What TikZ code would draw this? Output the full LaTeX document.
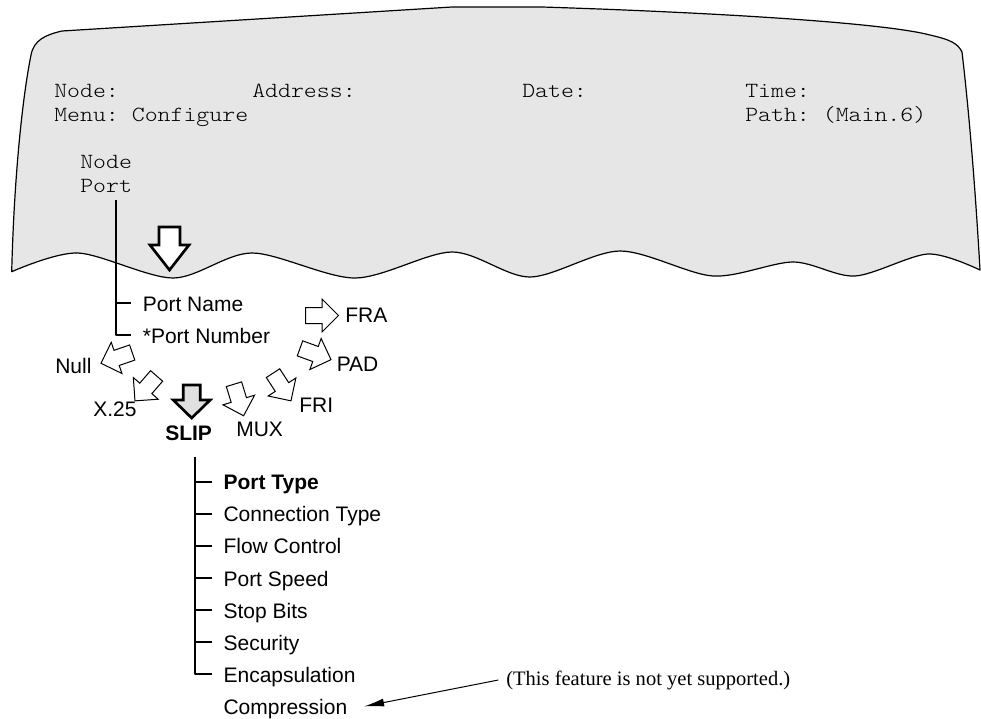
\documentclass[tikz,border=0pt]{standalone}
\usepackage{fontspec}
\setmainfont{Liberation Sans}
\newfontfamily\scrfont[FakeStretch=1.14]{Latin Modern Mono Light}
\newfontfamily\notefont{Liberation Serif}
\usetikzlibrary{arrows.meta}
\definecolor{screengray}{HTML}{E6E6E6}
\definecolor{slipgray}{HTML}{E0E0E0}
\tikzset{
  pics/barrow/.style n args={5}{code={%
    \path[pic actions] (-#1,-#2) -- (#3,-#2) -- (#3,-#4) -- (#5,0) -- (#3,#4) -- (#3,#2) -- (-#1,#2) -- cycle;}},
}
\frenchspacing
\begin{document}
\begin{tikzpicture}[line join=round, x=0.75pt, y=-0.75pt]
    \tikzset{scr/.style={font=\scrfont\fontsize{16.2}{19}\selectfont, anchor=base west, inner sep=0pt},
        item/.style={font=\fontsize{15.75}{18}\selectfont, anchor=west, inner xsep=8.7pt, inner ysep=0pt, text height=12pt, text depth=0pt},
        lbl/.style={font=\fontsize{15.75}{18}\selectfont, anchor=west, inner sep=0pt},
        tree/.style={line width=1.3pt},
        thinarr/.style={draw, fill=white, line width=0.75pt, line join=miter},
        boldarr/.style={draw, line width=2pt, line join=miter}}
    \def\rowgap{32.1}
    \useasboundingbox (0,0) rectangle (981,718);
    % the screen
    \filldraw[fill=screengray, line width=0.9pt] (11.7,271.7) .. controls (14,180) and (22,100) .. (31,55)
        .. controls (34,40) and (45,35) .. (62,31) -- (452,7) -- (542,7)
        .. controls (700,12) and (880,22) .. (930,35) .. controls (952,40) and (958,44) .. (962,52)
        .. controls (970,120) and (976,200) .. (980,270)
        -- plot[smooth] coordinates {(980,270) (928,254) (855,276) (793,262) (713,276) (620,251) (530,277)
            (452,252) (355,278) (252,253) (173,278) (78,253) (11.7,271.7)} -- cycle;
    \node[scr] (nodef) at (54,97) {Node:};
    \node[scr] (addrf) at (252,97) {Address:};
    \node[scr] (datef) at (522,97) {Date:};
    \node[scr] (timef) at (745,97) {Time:};
    \node[scr] (menuf) at (54,121) {Menu: Configure};
    \node[scr] (pathf) at (745,121) {Path: (Main.6)};
    \node[scr] (mnode) at (80,168) {Node};
    \node[scr] (mport) at (80,192) {Port};
    \pic[boldarr, fill=white, rotate=270] at (169.5,248.5) {barrow={21.5}{10.5}{-3.5}{19.5}{21.5}};
    % port menu
    \coordinate (spineA) at (116,200);
    \node[item] (pname) at (131,303) {Port Name};
    \node[item] (pnum) at (131,335) {*Port Number};
    \draw[tree] (spineA) |- (pnum.west);
    \draw[tree] (spineA |- pname.west) -- (pname.west);
    % port types
    \pic[thinarr, rotate=199] at (116.6,357.9) {barrow={16.5}{8}{0}{16.5}{16.5}};
    \pic[thinarr, rotate=229] at (145.8,388.4) {barrow={16.5}{8}{0}{16.5}{16.5}};
    \pic[boldarr, fill=slipgray, rotate=270] at (191.7,401.5) {barrow={16.5}{8.5}{-1.5}{18.5}{16.5}};
    \pic[thinarr, rotate=287] at (238.8,400) {barrow={16.5}{8}{0}{16.5}{16.5}};
    \pic[thinarr, rotate=303] at (282,387) {barrow={16.5}{8}{0}{16.5}{16.5}};
    \pic[thinarr, rotate=340] at (315.5,354) {barrow={16.5}{8}{0}{16.5}{16.5}};
    \pic[thinarr, rotate=0] at (322,315.5) {barrow={16.5}{8}{0}{16.5}{16.5}};
    \node[lbl] (null) at (55,365.5) {Null};
    \node[lbl] (x25) at (93,409.7) {X.25};
    \node[lbl] (slip) at (165,433.5) {\bfseries SLIP};
    \node[lbl] (mux) at (236,429.7) {MUX};
    \node[lbl] (fri) at (299,405.3) {FRI};
    \node[lbl] (pad) at (336.5,364.2) {PAD};
    \node[lbl] (fra) at (345,315) {FRA};
    % SLIP menu
    \coordinate (spineB) at (195,457);
    \foreach \t [count=\i from 0] in {{\bfseries Port Type}, Connection Type, Flow Control, Port Speed, Stop Bits, Security, Encapsulation}
        \node[item] (item\i) at (211.7,{481.7+\i*\rowgap}) {\t};
    \node[item] (compr) at (211.7,{481.7+7*\rowgap}) {Compression};
    \draw[tree] (spineB) |- (item6.west);
    \foreach \i in {0,...,5}
        \draw[tree] (spineB |- item\i.west) -- (item\i.west);
    \node[font=\notefont\fontsize{15.4}{18}\selectfont, anchor=west, inner xsep=5.8pt, inner ysep=0pt] (note) at (498.3,680) {(This feature is not yet supported.)};
    \draw[-{Latex[length=15pt,width=6pt]}, line width=0.75pt] (note.west) -- ([xshift=3.7pt]compr.east);
\end{tikzpicture}
\end{document}
